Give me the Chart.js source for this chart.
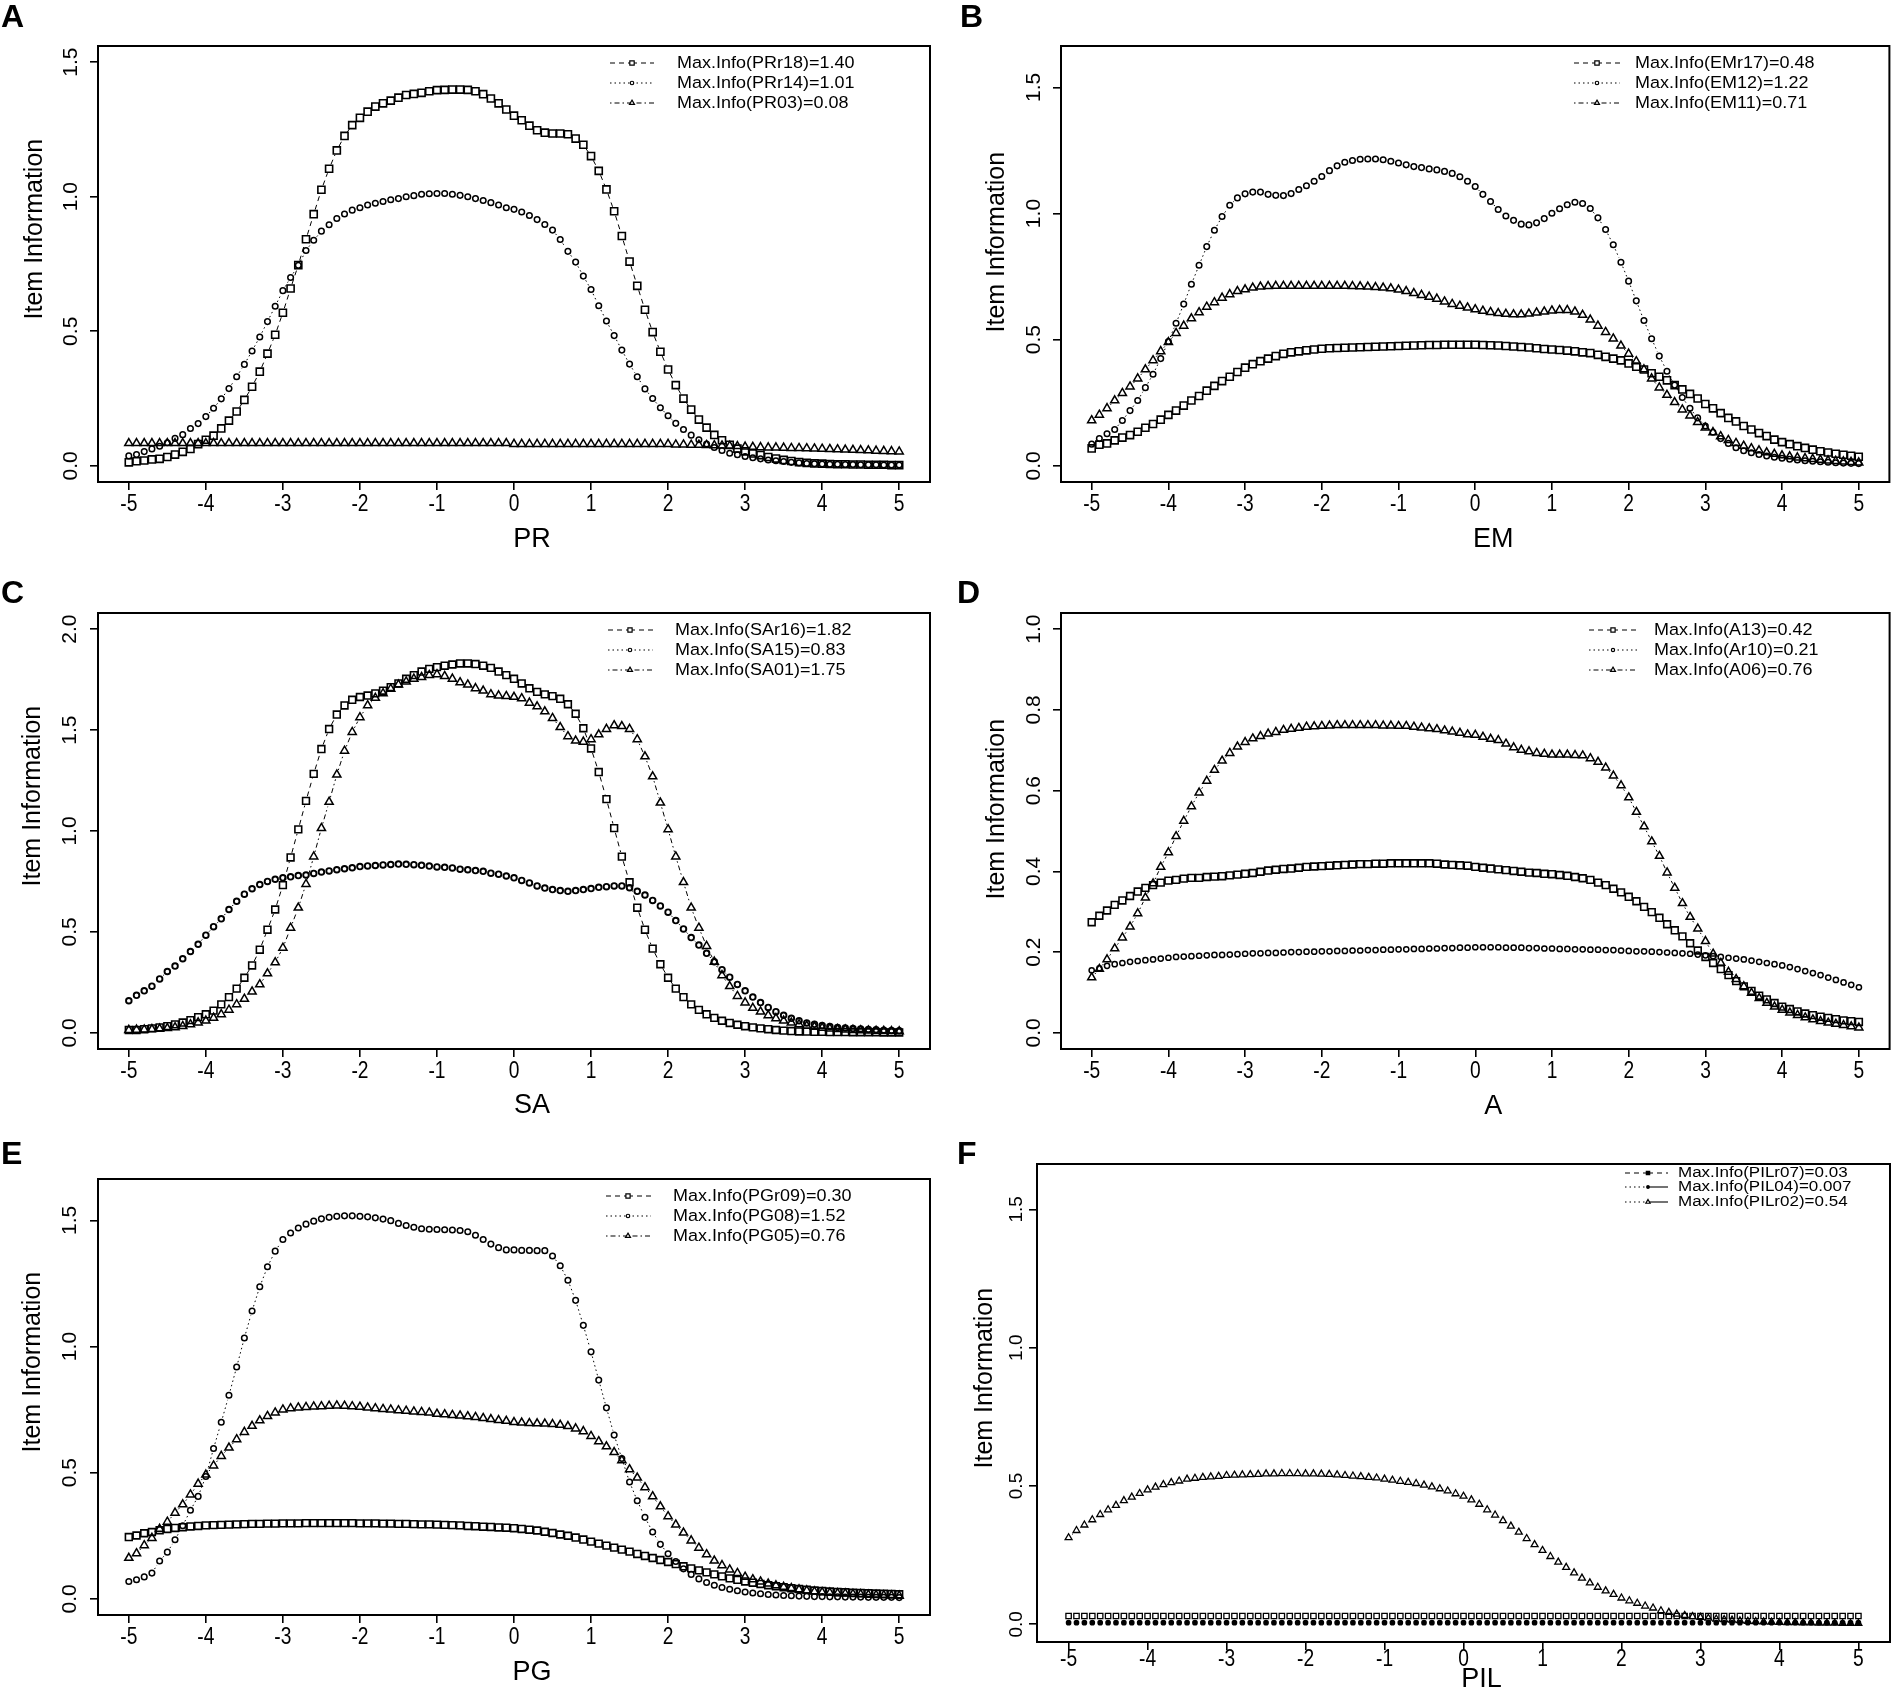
<!DOCTYPE html>
<html><head><meta charset="utf-8">
<script src="https://cdn.jsdelivr.net/npm/chart.js@4.4.1/dist/chart.umd.min.js"></script>
<style>
html,body{margin:0;padding:0;background:#fff;}
#wrap{position:relative;width:1896px;height:1700px;background:#fff;overflow:hidden;}
canvas{position:absolute;}
</style></head><body><div id="wrap"></div>
<script>
// ---------------- DATA ----------------
const theta = [-5,-4.9,-4.8,-4.7,-4.6,-4.5,-4.4,-4.3,-4.2,-4.1,-4,-3.9,-3.8,-3.7,-3.6,-3.5,-3.4,-3.3,-3.2,-3.1,-3,-2.9,-2.8,-2.7,-2.6,-2.5,-2.4,-2.3,-2.2,-2.1,-2,-1.9,-1.8,-1.7,-1.6,-1.5,-1.4,-1.3,-1.2,-1.1,-1,-0.9,-0.8,-0.7,-0.6,-0.5,-0.4,-0.3,-0.2,-0.1,0,0.1,0.2,0.3,0.4,0.5,0.6,0.7,0.8,0.9,1,1.1,1.2,1.3,1.4,1.5,1.6,1.7,1.8,1.9,2,2.1,2.2,2.3,2.4,2.5,2.6,2.7,2.8,2.9,3,3.1,3.2,3.3,3.4,3.5,3.6,3.7,3.8,3.9,4,4.1,4.2,4.3,4.4,4.5,4.6,4.7,4.8,4.9,5];
const xTicks = [-5,-4,-3,-2,-1,0,1,2,3,4,5];
const xTickLabels = ['-5','-4','-3','-2','-1','0','1','2','3','4','5'];
const yTicks15 = [0,0.5,1,1.5];
const yLabels15 = ['0.0','0.5','1.0','1.5'];
const yTicks20 = [0,0.5,1,1.5,2];
const yLabels20 = ['0.0','0.5','1.0','1.5','2.0'];
const yTicks10 = [0,0.2,0.4,0.6,0.8,1.0];
const yLabels10 = ['0.0','0.2','0.4','0.6','0.8','1.0'];
const xTitles = ['PR','EM','SA','A','PG','PIL'];
const panelLetters = ['A','B','C','D','E','F'];

const legendA = ['Max.Info(PRr18)=1.40','Max.Info(PRr14)=1.01','Max.Info(PR03)=0.08'];
const legendB = ['Max.Info(EMr17)=0.48','Max.Info(EM12)=1.22','Max.Info(EM11)=0.71'];
const legendC = ['Max.Info(SAr16)=1.82','Max.Info(SA15)=0.83','Max.Info(SA01)=1.75'];
const legendD = ['Max.Info(A13)=0.42','Max.Info(Ar10)=0.21','Max.Info(A06)=0.76'];
const legendE = ['Max.Info(PGr09)=0.30','Max.Info(PG08)=1.52','Max.Info(PG05)=0.76'];
const legendF = ['Max.Info(PILr07)=0.03','Max.Info(PIL04)=0.007','Max.Info(PILr02)=0.54'];

const PRr18 = [0.013,0.017,0.020,0.024,0.026,0.033,0.042,0.052,0.063,0.081,
0.097,0.112,0.139,0.168,0.202,0.245,0.294,0.350,0.417,0.487,
0.569,0.659,0.746,0.842,0.935,1.026,1.104,1.172,1.226,1.266,
1.293,1.316,1.335,1.347,1.357,1.368,1.378,1.382,1.386,1.392,
1.396,1.397,1.398,1.398,1.397,1.392,1.381,1.365,1.347,1.324,
1.301,1.284,1.264,1.247,1.238,1.235,1.235,1.232,1.216,1.193,
1.151,1.096,1.027,0.946,0.854,0.759,0.669,0.580,0.497,0.424,
0.358,0.300,0.250,0.209,0.172,0.142,0.115,0.095,0.078,0.064,
0.054,0.046,0.040,0.033,0.027,0.022,0.018,0.014,0.011,0.009,
0.008,0.007,0.006,0.006,0.005,0.005,0.004,0.004,0.004,0.003,
0.003];
const PRr14 = [0.037,0.042,0.053,0.063,0.073,0.086,0.102,0.116,0.139,0.157,
0.183,0.214,0.249,0.287,0.331,0.377,0.427,0.479,0.536,0.593,
0.651,0.700,0.745,0.800,0.838,0.872,0.896,0.919,0.936,0.950,
0.959,0.969,0.976,0.982,0.989,0.993,1.000,1.004,1.009,1.011,
1.012,1.012,1.009,1.005,1.000,0.993,0.986,0.978,0.969,0.959,
0.953,0.943,0.930,0.915,0.897,0.876,0.841,0.797,0.757,0.705,
0.655,0.595,0.538,0.484,0.430,0.378,0.331,0.286,0.250,0.216,
0.186,0.158,0.135,0.114,0.097,0.081,0.068,0.057,0.047,0.041,
0.035,0.030,0.026,0.022,0.019,0.016,0.013,0.011,0.009,0.008,
0.007,0.006,0.006,0.005,0.005,0.004,0.004,0.004,0.003,0.003,
0.003];
const PR03 = [0.084,0.084,0.084,0.084,0.084,0.084,0.084,0.084,0.084,0.084,
0.084,0.084,0.084,0.084,0.084,0.084,0.084,0.084,0.084,0.084,
0.084,0.084,0.084,0.084,0.084,0.084,0.084,0.084,0.084,0.084,
0.084,0.084,0.084,0.084,0.084,0.084,0.084,0.084,0.084,0.084,
0.084,0.084,0.084,0.084,0.084,0.084,0.084,0.084,0.084,0.084,
0.081,0.081,0.081,0.081,0.081,0.081,0.081,0.081,0.081,0.081,
0.081,0.081,0.081,0.081,0.081,0.081,0.081,0.081,0.081,0.081,
0.081,0.079,0.079,0.078,0.078,0.077,0.076,0.075,0.074,0.073,
0.071,0.070,0.069,0.068,0.068,0.067,0.066,0.066,0.065,0.064,
0.063,0.062,0.061,0.060,0.059,0.058,0.057,0.056,0.055,0.054,
0.053];

const EMr17 = [0.069,0.084,0.089,0.101,0.112,0.122,0.135,0.151,0.166,0.183,
0.202,0.219,0.239,0.259,0.277,0.298,0.317,0.336,0.353,0.372,
0.389,0.403,0.415,0.425,0.435,0.444,0.450,0.454,0.458,0.461,
0.464,0.466,0.467,0.468,0.469,0.470,0.471,0.472,0.473,0.474,
0.475,0.476,0.477,0.478,0.479,0.479,0.480,0.480,0.480,0.480,
0.480,0.479,0.478,0.477,0.475,0.473,0.471,0.469,0.466,0.463,
0.461,0.459,0.457,0.454,0.450,0.447,0.440,0.432,0.425,0.418,
0.406,0.393,0.382,0.367,0.353,0.339,0.320,0.303,0.285,0.267,
0.245,0.228,0.209,0.190,0.176,0.158,0.144,0.130,0.118,0.104,
0.094,0.086,0.078,0.071,0.064,0.058,0.053,0.048,0.044,0.040,
0.036];
const EM12 = [0.086,0.108,0.127,0.144,0.180,0.219,0.259,0.310,0.363,0.425,
0.493,0.565,0.641,0.720,0.795,0.869,0.934,0.988,1.033,1.062,
1.078,1.085,1.085,1.076,1.072,1.071,1.079,1.095,1.110,1.128,
1.147,1.170,1.189,1.203,1.210,1.215,1.216,1.216,1.213,1.207,
1.200,1.193,1.186,1.182,1.177,1.173,1.167,1.159,1.146,1.128,
1.107,1.076,1.048,1.016,0.990,0.973,0.958,0.955,0.963,0.980,
1.001,1.019,1.035,1.045,1.040,1.020,0.983,0.937,0.876,0.807,
0.732,0.654,0.576,0.504,0.435,0.375,0.320,0.271,0.228,0.190,
0.158,0.133,0.108,0.089,0.072,0.060,0.052,0.045,0.039,0.034,
0.030,0.026,0.023,0.020,0.018,0.016,0.014,0.012,0.011,0.010,
0.009];
const EM11 = [0.180,0.202,0.228,0.259,0.288,0.314,0.346,0.382,0.418,0.454,
0.490,0.526,0.555,0.584,0.608,0.630,0.648,0.666,0.680,0.692,
0.699,0.706,0.710,0.712,0.713,0.713,0.713,0.713,0.713,0.713,
0.713,0.713,0.713,0.713,0.712,0.711,0.710,0.708,0.706,0.703,
0.698,0.692,0.684,0.677,0.670,0.662,0.651,0.641,0.634,0.627,
0.620,0.614,0.609,0.605,0.602,0.600,0.600,0.603,0.607,0.611,
0.615,0.617,0.617,0.611,0.598,0.579,0.555,0.530,0.504,0.476,
0.444,0.414,0.382,0.346,0.310,0.281,0.252,0.223,0.199,0.173,
0.151,0.133,0.117,0.102,0.090,0.079,0.069,0.061,0.053,0.047,
0.041,0.037,0.033,0.030,0.027,0.024,0.021,0.019,0.017,0.015,
0.013];

const SAr16 = [0.014,0.014,0.018,0.022,0.027,0.033,0.042,0.051,0.063,0.078,
0.092,0.110,0.141,0.177,0.219,0.273,0.334,0.412,0.511,0.611,
0.732,0.869,1.008,1.149,1.283,1.406,1.505,1.577,1.622,1.650,
1.664,1.671,1.682,1.695,1.713,1.731,1.754,1.772,1.790,1.803,
1.812,1.819,1.825,1.830,1.830,1.827,1.819,1.808,1.790,1.772,
1.754,1.731,1.707,1.689,1.677,1.668,1.655,1.628,1.581,1.509,
1.409,1.292,1.158,1.014,0.873,0.746,0.620,0.511,0.417,0.340,
0.273,0.219,0.177,0.141,0.114,0.092,0.074,0.060,0.049,0.040,
0.033,0.027,0.022,0.018,0.014,0.011,0.009,0.007,0.006,0.005,
0.005,0.004,0.004,0.004,0.003,0.003,0.003,0.003,0.002,0.002,
0.002];
const SA15 = [0.159,0.186,0.208,0.231,0.267,0.304,0.331,0.367,0.403,0.439,
0.484,0.526,0.565,0.611,0.652,0.687,0.714,0.735,0.750,0.761,
0.768,0.773,0.779,0.782,0.790,0.797,0.802,0.808,0.813,0.818,
0.824,0.827,0.829,0.832,0.834,0.836,0.835,0.833,0.830,0.826,
0.822,0.820,0.817,0.811,0.808,0.804,0.800,0.791,0.786,0.777,
0.768,0.755,0.743,0.728,0.717,0.710,0.705,0.701,0.705,0.710,
0.715,0.721,0.724,0.728,0.728,0.719,0.701,0.683,0.656,0.629,
0.598,0.556,0.515,0.472,0.435,0.394,0.352,0.313,0.276,0.240,
0.208,0.177,0.150,0.126,0.105,0.087,0.072,0.060,0.049,0.042,
0.036,0.031,0.027,0.024,0.021,0.019,0.017,0.015,0.013,0.012,
0.011];
const SA01 = [0.014,0.015,0.016,0.018,0.020,0.023,0.027,0.033,0.042,0.051,
0.060,0.074,0.092,0.114,0.141,0.168,0.204,0.240,0.294,0.349,
0.421,0.520,0.620,0.737,0.873,1.014,1.144,1.279,1.397,1.490,
1.563,1.622,1.659,1.682,1.704,1.725,1.740,1.754,1.762,1.772,
1.776,1.767,1.754,1.736,1.725,1.707,1.695,1.677,1.671,1.668,
1.664,1.657,1.635,1.617,1.592,1.559,1.514,1.469,1.447,1.442,
1.454,1.478,1.505,1.523,1.519,1.505,1.454,1.369,1.270,1.140,
1.008,0.873,0.746,0.620,0.520,0.430,0.352,0.285,0.231,0.182,
0.150,0.123,0.105,0.087,0.072,0.060,0.050,0.042,0.035,0.030,
0.025,0.021,0.018,0.016,0.014,0.012,0.011,0.010,0.009,0.008,
0.007];

const A13 = [0.274,0.290,0.303,0.317,0.328,0.339,0.350,0.359,0.366,0.372,
0.377,0.379,0.382,0.384,0.384,0.386,0.387,0.388,0.390,0.392,
0.394,0.396,0.399,0.402,0.404,0.406,0.407,0.409,0.411,0.412,
0.413,0.414,0.415,0.416,0.417,0.418,0.418,0.419,0.419,0.420,
0.420,0.420,0.420,0.420,0.420,0.419,0.417,0.416,0.415,0.414,
0.411,0.409,0.407,0.405,0.403,0.401,0.399,0.397,0.396,0.394,
0.393,0.391,0.389,0.386,0.383,0.379,0.372,0.366,0.357,0.348,
0.337,0.326,0.312,0.299,0.285,0.269,0.254,0.239,0.222,0.204,
0.188,0.173,0.158,0.143,0.128,0.115,0.104,0.092,0.083,0.074,
0.065,0.059,0.053,0.048,0.044,0.040,0.037,0.034,0.031,0.029,
0.027];
const Ar10 = [0.155,0.160,0.166,0.170,0.173,0.176,0.178,0.180,0.182,0.184,
0.186,0.188,0.189,0.190,0.191,0.192,0.193,0.193,0.194,0.195,
0.196,0.197,0.197,0.198,0.198,0.199,0.200,0.200,0.201,0.201,
0.202,0.202,0.203,0.203,0.204,0.204,0.205,0.205,0.206,0.206,
0.207,0.207,0.208,0.208,0.209,0.209,0.210,0.210,0.211,0.211,
0.212,0.212,0.212,0.212,0.211,0.211,0.211,0.210,0.210,0.209,
0.209,0.208,0.208,0.207,0.207,0.206,0.206,0.205,0.205,0.204,
0.203,0.202,0.202,0.201,0.200,0.199,0.198,0.197,0.196,0.194,
0.192,0.190,0.188,0.186,0.184,0.182,0.179,0.176,0.173,0.170,
0.167,0.163,0.158,0.153,0.148,0.143,0.137,0.131,0.125,0.119,
0.113];
const A06 = [0.137,0.158,0.182,0.209,0.236,0.263,0.296,0.335,0.370,0.411,
0.447,0.487,0.525,0.561,0.595,0.624,0.651,0.674,0.693,0.709,
0.720,0.729,0.735,0.741,0.745,0.750,0.753,0.755,0.758,0.759,
0.760,0.761,0.762,0.762,0.762,0.762,0.762,0.762,0.761,0.761,
0.760,0.760,0.758,0.756,0.754,0.752,0.749,0.746,0.743,0.739,
0.738,0.733,0.728,0.725,0.716,0.707,0.701,0.697,0.693,0.691,
0.689,0.689,0.689,0.688,0.687,0.680,0.671,0.657,0.637,0.613,
0.583,0.547,0.511,0.474,0.438,0.397,0.359,0.321,0.287,0.258,
0.227,0.196,0.173,0.151,0.133,0.115,0.099,0.086,0.074,0.065,
0.057,0.050,0.044,0.038,0.033,0.029,0.025,0.022,0.019,0.016,
0.013];

const PGr09 = [0.245,0.251,0.260,0.265,0.272,0.277,0.281,0.284,0.287,0.289,
0.291,0.292,0.293,0.294,0.295,0.296,0.297,0.297,0.298,0.298,
0.299,0.299,0.299,0.300,0.300,0.300,0.300,0.300,0.300,0.300,
0.299,0.299,0.299,0.298,0.298,0.297,0.297,0.296,0.295,0.295,
0.294,0.293,0.292,0.291,0.289,0.288,0.286,0.285,0.283,0.282,
0.280,0.277,0.274,0.271,0.266,0.261,0.255,0.250,0.243,0.235,
0.227,0.219,0.211,0.203,0.195,0.187,0.178,0.170,0.162,0.154,
0.146,0.138,0.129,0.121,0.113,0.105,0.097,0.089,0.081,0.075,
0.069,0.064,0.059,0.054,0.050,0.046,0.042,0.039,0.036,0.033,
0.031,0.029,0.027,0.026,0.024,0.023,0.022,0.021,0.020,0.019,
0.018];
const PG08 = [0.069,0.076,0.087,0.102,0.150,0.185,0.234,0.290,0.351,0.406,
0.485,0.596,0.700,0.807,0.919,1.034,1.141,1.237,1.316,1.378,
1.424,1.450,1.470,1.485,1.497,1.506,1.512,1.516,1.518,1.518,
1.516,1.514,1.510,1.505,1.499,1.488,1.480,1.473,1.467,1.465,
1.464,1.463,1.462,1.460,1.455,1.441,1.424,1.406,1.392,1.383,
1.383,1.381,1.381,1.380,1.380,1.359,1.320,1.263,1.183,1.084,
0.979,0.867,0.757,0.649,0.556,0.463,0.389,0.323,0.265,0.216,
0.179,0.148,0.119,0.097,0.079,0.065,0.054,0.045,0.038,0.032,
0.027,0.023,0.020,0.017,0.015,0.013,0.012,0.011,0.010,0.009,
0.009,0.008,0.008,0.007,0.007,0.007,0.006,0.006,0.006,0.006,
0.005];
const PG05 = [0.162,0.180,0.212,0.241,0.277,0.305,0.341,0.374,0.413,0.456,
0.492,0.528,0.566,0.599,0.632,0.661,0.685,0.707,0.724,0.738,
0.750,0.755,0.758,0.760,0.762,0.763,0.765,0.766,0.765,0.763,
0.761,0.758,0.755,0.752,0.750,0.747,0.745,0.742,0.740,0.738,
0.733,0.731,0.728,0.726,0.723,0.720,0.716,0.712,0.708,0.705,
0.700,0.698,0.696,0.695,0.694,0.692,0.689,0.684,0.675,0.664,
0.645,0.624,0.604,0.581,0.549,0.513,0.480,0.442,0.406,0.366,
0.327,0.294,0.262,0.231,0.202,0.176,0.151,0.133,0.116,0.102,
0.087,0.077,0.068,0.060,0.053,0.047,0.042,0.037,0.033,0.029,
0.026,0.024,0.022,0.021,0.019,0.018,0.016,0.015,0.014,0.013,
0.012];

const PILr07 = [0.030,0.030,0.030,0.030,0.030,0.030,0.030,0.030,0.030,0.030,
0.030,0.030,0.030,0.030,0.030,0.030,0.030,0.030,0.030,0.030,
0.030,0.030,0.030,0.030,0.030,0.030,0.030,0.030,0.030,0.030,
0.030,0.030,0.030,0.030,0.030,0.030,0.030,0.030,0.030,0.030,
0.030,0.030,0.030,0.030,0.030,0.030,0.030,0.030,0.030,0.030,
0.030,0.030,0.030,0.030,0.030,0.030,0.030,0.030,0.030,0.030,
0.030,0.030,0.030,0.030,0.030,0.030,0.030,0.030,0.030,0.030,
0.030,0.030,0.030,0.030,0.030,0.030,0.030,0.030,0.030,0.030,
0.030,0.030,0.030,0.030,0.030,0.030,0.030,0.030,0.030,0.030,
0.030,0.030,0.030,0.030,0.030,0.030,0.030,0.030,0.030,0.030,
0.030];
const PIL04 = [0.006,0.006,0.006,0.006,0.006,0.006,0.006,0.006,0.006,0.006,
0.006,0.006,0.006,0.006,0.006,0.006,0.006,0.006,0.006,0.006,
0.006,0.006,0.006,0.006,0.006,0.006,0.006,0.006,0.006,0.006,
0.006,0.006,0.006,0.006,0.006,0.006,0.006,0.006,0.006,0.006,
0.006,0.006,0.006,0.006,0.006,0.006,0.006,0.006,0.006,0.006,
0.006,0.006,0.006,0.006,0.006,0.006,0.006,0.006,0.006,0.006,
0.006,0.006,0.006,0.006,0.006,0.006,0.006,0.006,0.006,0.006,
0.006,0.006,0.006,0.006,0.006,0.006,0.006,0.006,0.006,0.006,
0.006,0.006,0.006,0.006,0.006,0.006,0.006,0.006,0.006,0.006,
0.006,0.006,0.006,0.006,0.006,0.006,0.006,0.006,0.006,0.006,
0.006];
const PILr02 = [0.313,0.339,0.359,0.378,0.397,0.414,0.430,0.447,0.460,0.473,
0.486,0.496,0.505,0.512,0.518,0.525,0.528,0.531,0.533,0.535,
0.538,0.539,0.540,0.541,0.542,0.544,0.544,0.545,0.545,0.545,
0.544,0.544,0.543,0.542,0.540,0.538,0.536,0.534,0.531,0.529,
0.525,0.521,0.517,0.513,0.509,0.503,0.497,0.490,0.482,0.472,
0.463,0.450,0.434,0.414,0.395,0.375,0.355,0.333,0.310,0.288,
0.267,0.245,0.225,0.206,0.186,0.167,0.150,0.134,0.121,0.108,
0.095,0.085,0.076,0.066,0.059,0.049,0.043,0.037,0.032,0.028,
0.025,0.022,0.019,0.017,0.015,0.013,0.011,0.010,0.009,0.008,
0.007,0.006,0.006,0.005,0.005,0.004,0.004,0.004,0.003,0.003,
0.003];

// ---------------- STYLES / LAYOUT ----------------
const DASHED = [5,4], DOTTED = [1.5,3], DOTDASH = [1.5,3,5,3], SOLID = [];
const SQ = {style:'rect', r:5.0, bw:1.6, dash:DASHED};
const CI = {style:'circle', r:2.8, bw:1.5, dash:DOTTED};
const TR = {style:'triangle', r:4.7, bw:1.5, dash:DOTDASH};

function ser(data, label, st, extra) { return Object.assign({data, label}, st, extra || {}); }

const LEFT = {L:98, R:930, T:46, B:482};
const RIGHT = {L:113, R:946, T:46, B:482};

const panels = [
 {i:0, col:0, row:0, box:LEFT, letterPos:[1,18], yMin:-0.06, yMax:1.56, yTicks:yTicks15, yLabels:yLabels15,
  yTitleF:0.42, yLabOff:27, yLabSize:21, yTitleOff:63, xLabOff:22, xTitleOff:58,
  legRows:[17,37,57], legX:[610,654,632,677], legSize:18, legSy:0.92,
  series:[ser(PRr18, legendA[0], SQ), ser(PRr14, legendA[1], CI), ser(PR03, legendA[2], TR)]},
 {i:1, col:1, row:0, box:RIGHT, letterPos:[12,18], yMin:-0.064, yMax:1.664, yTicks:yTicks15, yLabels:yLabels15,
  yTitleF:0.45, yLabOff:27, yLabSize:21, yTitleOff:64, xLabOff:22, xTitleOff:58,
  legRows:[17,37,57], legX:[626,672,649,687], legSize:18, legSy:0.92,
  series:[ser(EMr17, legendB[0], SQ), ser(EM12, legendB[1], CI), ser(EM11, legendB[2], TR)]},
 {i:2, col:0, row:1, box:LEFT, letterPos:[1,27], yMin:-0.08, yMax:2.08, yTicks:yTicks20, yLabels:yLabels20,
  yTitleF:0.42, yLabOff:28, yLabSize:21, yTitleOff:65, xLabOff:22, xTitleOff:57,
  legRows:[17,37,57], legX:[608,653,630,675], legSize:18, legSy:0.92,
  series:[ser(SAr16, legendC[0], SQ, {r:4.8}), ser(SA15, legendC[1], CI, {r:2.8, bw:1.9}), ser(SA01, legendC[2], TR)]},
 {i:3, col:1, row:1, box:RIGHT, letterPos:[9,27], yMin:-0.04, yMax:1.04, yTicks:yTicks10, yLabels:yLabels10,
  yTitleF:0.45, yLabOff:27, yLabSize:21, yTitleOff:64, xLabOff:22, xTitleOff:58,
  legRows:[17,37,57], legX:[641,689,665,706], legSize:18, legSy:0.92,
  series:[ser(A13, legendD[0], SQ, {r:4.8}), ser(Ar10, legendD[1], CI, {r:2.6}), ser(A06, legendD[2], TR, {r:4.6})]},
 {i:4, col:0, row:2, box:LEFT, letterPos:[1,22], yMin:-0.064, yMax:1.664, yTicks:yTicks15, yLabels:yLabels15,
  yTitleF:0.42, yLabOff:28, yLabSize:21, yTitleOff:65, xLabOff:22, xTitleOff:58,
  legRows:[17,37,57], legX:[606,651,628,673], legSize:18, legSy:0.92,
  series:[ser(PGr09, legendE[0], SQ, {r:4.8}), ser(PG08, legendE[1], CI, {r:2.8}), ser(PG05, legendE[2], TR)]},
 {i:5, col:1, row:2, box:{L:89, R:942, T:31, B:509}, letterPos:[9,22], yMin:-0.064, yMax:1.664, yTicks:yTicks15, yLabels:yLabels15,
  yTitleF:0.448, yLabOff:20, yLabSize:19, yTitleOff:52, xLabOff:17, xTitleOff:38,
  legRows:[9,23,38], legX:[677,720,700,730], legSize:17, legSy:0.85,
  series:[ser(PILr07, legendF[0], SQ, {r:3.8, bw:1.3, legFill:true}),
          ser(PIL04, legendF[1], CI, {r:2.1, fill:true, legDashL:DOTTED, legDashR:SOLID}),
          ser(PILr02, legendF[2], TR, {r:4.0, bw:1.3, legDashL:DOTTED, legDashR:SOLID})]}
];

const W = 948, H = 567, rowTop = [0, 567, 1133];
const FONT = '"Liberation Sans", Arial, Helvetica, sans-serif';

function txt(ctx, s, x, y, o) {
  ctx.save();
  ctx.translate(x, y);
  if (o.rot) ctx.rotate(o.rot);
  ctx.scale(o.sx || 1, o.sy || 1);
  ctx.font = (o.bold ? 'bold ' : '') + o.size + 'px ' + FONT;
  ctx.fillStyle = '#000';
  ctx.textAlign = o.align || 'center';
  ctx.textBaseline = 'middle';
  ctx.fillText(s, 0, 0);
  ctx.restore();
}
function mark(ctx, style, x, y, r, bw, fill) {
  ctx.save();
  ctx.setLineDash([]);
  ctx.lineWidth = bw; ctx.strokeStyle = '#000'; ctx.fillStyle = fill ? '#000' : '#fff';
  ctx.beginPath();
  if (style === 'rect') { const s = r * Math.SQRT1_2; ctx.rect(x - s, y - s, 2 * s, 2 * s); }
  else if (style === 'circle') { ctx.arc(x, y, r, 0, Math.PI * 2); }
  else {
    const a = 2 * Math.PI / 3;
    ctx.moveTo(x, y - r);
    ctx.lineTo(x + r * Math.sin(a), y - r * Math.cos(a));
    ctx.lineTo(x + r * Math.sin(2 * a), y - r * Math.cos(2 * a));
    ctx.closePath();
  }
  ctx.fill(); ctx.stroke(); ctx.restore();
}

// R "type = b" connecting segments, with gaps round each point (positions from the chart's own elements)
const rLines = {
  id: 'rLines',
  beforeDatasetsDraw(chart) {
    const ctx = chart.ctx;
    chart.data.datasets.forEach((ds, di) => {
      const pts = chart.getDatasetMeta(di).data;
      const g = ds.rGap;
      ctx.save();
      ctx.strokeStyle = '#000'; ctx.lineWidth = 1; ctx.setLineDash(ds.rDash);
      ctx.beginPath();
      for (let k = 0; k < pts.length - 1; k++) {
        const a = pts[k], b = pts[k + 1];
        const dx = b.x - a.x, dy = b.y - a.y, d = Math.hypot(dx, dy);
        if (d > 2 * g + 1) {
          const ux = dx / d, uy = dy / d;
          ctx.moveTo(a.x + ux * g, a.y + uy * g);
          ctx.lineTo(b.x - ux * g, b.y - uy * g);
        }
      }
      ctx.stroke(); ctx.restore();
    });
  }
};

function makeDecor(P) {
  return {
    id: 'decor' + P.i,
    afterDraw(chart) {
      const ctx = chart.ctx, ca = chart.chartArea, xs = chart.scales.x, ys = chart.scales.y;
      ctx.save(); ctx.strokeStyle = '#000'; ctx.lineWidth = 2; ctx.setLineDash([]);
      ctx.strokeRect(ca.left, ca.top, ca.right - ca.left, ca.bottom - ca.top); ctx.restore();
      txt(ctx, panelLetters[P.i], P.letterPos[0], P.letterPos[1], {size:32, bold:true, align:'left'});
      xTicks.forEach((v, k) => txt(ctx, xTickLabels[k], xs.getPixelForValue(v), ca.bottom + P.xLabOff, {size:24, sx:0.8}));
      P.yTicks.forEach((v, k) => txt(ctx, P.yLabels[k], ca.left - P.yLabOff, ys.getPixelForValue(v), {size:P.yLabSize, rot:-Math.PI / 2}));
      txt(ctx, xTitles[P.i], xs.getPixelForValue(0) + 18, ca.bottom + P.xTitleOff, {size:27});
      txt(ctx, 'Item Information', ca.left - P.yTitleOff, ca.top + P.yTitleF * (ca.bottom - ca.top), {size:25, rot:-Math.PI / 2});
      // legend
      const [l0, l1, lm, tx] = P.legX;
      P.series.forEach((s, k) => {
        const y = ca.top + P.legRows[k];
        ctx.save(); ctx.strokeStyle = '#000'; ctx.lineWidth = 1.1;
        const dl = s.legDashL || s.dash, dr = s.legDashR || s.dash;
        ctx.setLineDash(dl); ctx.beginPath(); ctx.moveTo(l0, y); ctx.lineTo(lm, y); ctx.stroke();
        ctx.setLineDash(dr); ctx.beginPath(); ctx.moveTo(lm, y); ctx.lineTo(l1, y); ctx.stroke();
        ctx.restore();
        mark(ctx, s.style, lm, y, s.r * 0.62, 1.2, s.fill || s.legFill);
        txt(ctx, s.label, tx, y, {size:P.legSize, sy:P.legSy, align:'left'});
      });
    }
  };
}

const wrap = document.getElementById('wrap');
panels.forEach(P => {
  const cv = document.createElement('canvas');
  cv.width = W; cv.height = H;
  cv.style.left = (P.col * 948) + 'px';
  cv.style.top = rowTop[P.row] + 'px';
  cv.style.width = W + 'px'; cv.style.height = H + 'px';
  wrap.appendChild(cv);
  const yW = 12, xH = 40, bx = P.box;
  const tickGrid = {display:true, drawOnChartArea:false, drawTicks:true, tickLength:8, color:'#000', lineWidth:1.6};
  new Chart(cv, {
    type: 'line',
    data: {
      datasets: P.series.map(s => ({
        label: s.label,
        data: theta.map((t, k) => ({x: t, y: s.data[k]})),
        showLine: false,
        pointStyle: s.style,
        pointRadius: s.r,
        pointHoverRadius: s.r,
        pointBorderWidth: s.bw,
        pointBorderColor: '#000',
        pointBackgroundColor: s.fill ? '#000' : 'rgba(255,255,255,0)',
        rDash: s.dash,
        rGap: 4.8
      }))
    },
    options: {
      responsive: false, animation: false, devicePixelRatio: 1, events: [],
      layout: {padding: {left: bx.L - yW, right: W - bx.R, top: bx.T, bottom: H - bx.B - xH}},
      plugins: {legend: {display: false}, tooltip: {enabled: false}, title: {display: false}},
      scales: {
        x: {type: 'linear', min: -5.4, max: 5.4,
            afterBuildTicks: sc => { sc.ticks = xTicks.map(v => ({value: v})); },
            afterFit: sc => { sc.height = xH; },
            grid: tickGrid, border: {display: false}, ticks: {display: false}},
        y: {type: 'linear', min: P.yMin, max: P.yMax,
            afterBuildTicks: sc => { sc.ticks = P.yTicks.map(v => ({value: v})); },
            afterFit: sc => { sc.width = yW; },
            grid: tickGrid, border: {display: false}, ticks: {display: false}}
      }
    },
    plugins: [rLines, makeDecor(P)]
  });
});
</script>
</body></html>
